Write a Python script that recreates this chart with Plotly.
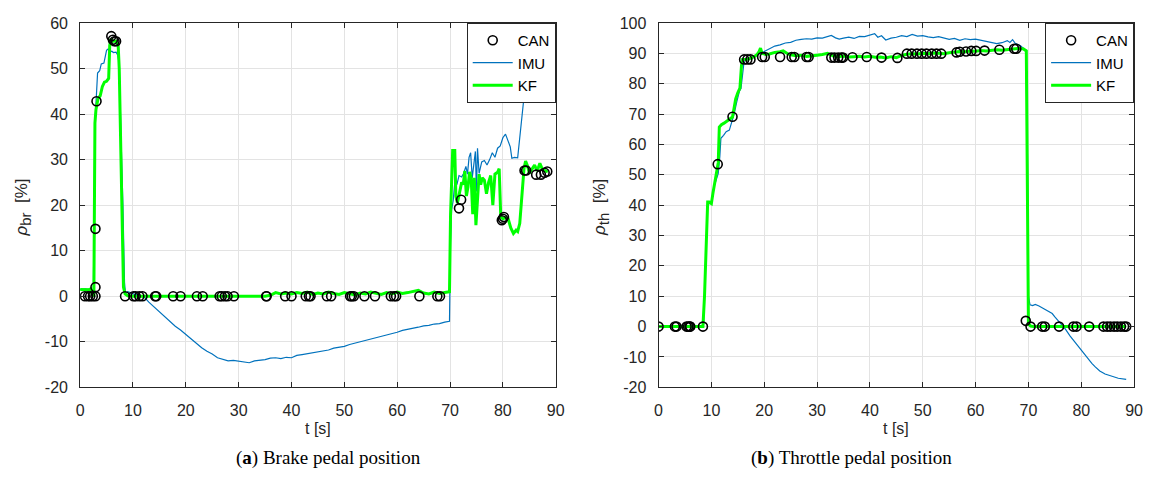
import plotly.graph_objects as go

# ---------------- Brake pedal position ----------------
brake_can_t = [0.9, 1.5, 1.9, 2.4, 2.9, 2.9, 2.9, 3.1, 5.9, 6.2, 6.5, 6.8,
               8.5, 10.1, 10.5, 11.2, 11.8, 14.2, 14.4, 17.6, 19.0, 22.1, 23.2,
               26.4, 26.8, 27.4, 27.9, 29.1, 35.2, 35.3, 38.8, 40.0, 42.7, 43.3,
               43.6, 46.7, 47.5, 51.1, 51.4, 51.8, 53.8, 55.8, 58.8, 59.4, 59.8,
               64.2, 67.6, 68.1, 71.7, 72.1, 79.8, 80.0, 80.2, 84.1, 84.4, 86.3,
               87.2, 87.9, 88.4]
brake_can_v = [0, 0, 0, 0, 0, 2.0, 14.8, 42.8, 57.1, 56.3, 56.0, 56.0,
               0, 0, 0, 0, 0, 0, 0, 0, 0, 0, 0,
               0, 0, 0, 0, 0, 0, 0, 0, 0, 0, 0,
               0, 0, 0, 0, 0, 0, 0, 0, 0, 0, 0,
               0, 0, 0, 19.3, 21.2, 16.7, 17.0, 17.4, 27.6, 27.6, 26.7,
               26.7, 27.1, 27.4]

brake_imu_t = [0, 1, 2, 2.5, 2.8, 3.0, 3.3, 3.7, 4.0, 4.5, 4.8, 5.0, 5.3, 5.6,
               6.0, 6.3, 6.8, 7.1, 7.4, 7.7, 7.9, 8.1, 8.4, 8.6, 9.0, 9.5, 10,
               11, 12, 13, 14, 15, 16, 17, 18, 19, 20, 21, 22, 23, 24, 25, 26,
               27, 28, 29, 30, 31, 32, 33, 34, 35, 36, 37, 38, 39, 40, 41, 42,
               43, 44, 45, 46, 47, 48, 49, 50, 51, 52, 53, 54, 55, 56, 57, 58,
               59, 60, 61, 62, 63, 64, 65, 66, 67, 68, 69, 69.9, 70.1, 70.3,
               70.6, 70.9, 71.3, 71.7, 72.2, 72.6, 73.0, 73.3, 73.6, 73.9, 74.2,
               74.5, 74.8, 75.0, 75.2, 75.5, 76.0, 76.5, 77.0, 77.5, 78.0, 78.5,
               79.0, 79.5, 80.0, 80.5, 81.0, 81.4, 81.7, 82.2, 82.8, 83.2, 83.8,
               84.2, 84.6, 85.0, 85.5]
brake_imu_v = [1.5, 1.6, 1.4, 1.2, 38, 44, 49, 49.5, 51, 51.2, 52.5, 54, 54.3,
               53.6, 53.8, 53.5, 53.6, 53.0, 51, 40, 28, 20, 3, 0.5, 1.0, 0.8,
               0.5, 0.3, 0.0, -1.3, -2.4, -3.3, -4.5, -5.6, -6.6, -7.4, -8.4,
               -9.5, -10.4, -11.3, -12.1, -12.7, -13.5, -13.8, -14.2, -14.1,
               -14.3, -14.4, -14.6, -14.2, -14.1, -13.9, -13.6, -13.5, -13.7,
               -13.4, -13.5, -13.0, -12.8, -12.6, -12.4, -12.2, -11.9, -11.8,
               -11.4, -11.2, -11.0, -10.6, -10.3, -10.0, -9.8, -9.5, -9.2, -8.9,
               -8.5, -8.2, -7.9, -7.5, -7.3, -7.0, -6.8, -6.5, -6.4, -6.1, -6.0,
               -5.7, -5.5, 12, 19, 21, 25, 24.5, 26.5, 26.2, 27, 28.5, 26.8,
               30.5, 31.5, 26, 29, 31.8, 23, 32.5, 27, 29.5, 29.8, 28.8, 30,
               31.5, 30.5, 32.5, 33, 34.8, 35.6, 34.2, 32.8, 30.3, 30.5, 30.4,
               34.5, 42, 46, 52, 58, 63]

brake_kf_t = [0, 1.5, 2.0, 2.3, 2.6, 2.8, 3.0, 3.4, 3.8, 4.2, 4.6, 5.0, 5.4,
              5.6, 5.8, 6.2, 6.8, 7.2, 7.4, 7.7, 8.0, 8.2, 8.5, 9, 10, 35, 36,
              37, 38, 39, 40, 41, 42, 43, 44, 45, 46, 47, 48, 49, 50, 51, 52,
              53, 54, 55, 56, 57, 58, 59, 60, 61, 62, 63, 64, 65, 66, 67, 68,
              69, 69.9, 70.1, 70.3, 70.5, 70.9, 71.1, 71.4, 71.8, 72.2, 72.5,
              72.8, 73.1, 73.4, 73.7, 74.0, 74.3, 74.6, 74.9, 75.2, 75.5, 75.8,
              76.1, 76.5, 76.9, 77.3, 77.7, 78.1, 78.5, 79.0, 79.3, 79.6, 80.0,
              80.5, 81.0, 81.5, 82.0, 82.5, 82.8, 83.2, 83.6, 84.0, 84.3, 84.7,
              85.0, 85.5, 86.0, 86.5, 87.0, 87.5, 88.0, 88.5]
brake_kf_v = [1.5, 1.4, 1.6, 0.3, 0.2, 38, 41, 43.5, 44, 46, 47, 47.2, 47.8,
              55, 56.5, 56, 56, 55, 50, 30, 12, 2, 0.5, 0.1, 0, 0, 0.2, 0.8,
              0.5, 0.7, 0.5, 0.8, 0.6, 0.9, 0.4, 0.7, 0.5, 0.9, 0.6, 0.4, 0.8,
              0.6, 0.3, 0.7, 0.5, 0.9, 0.6, 0.4, 0.8, 0.5, 0.9, 0.6, 0.8, 1.0,
              1.3, 0.7, 0.5, 0.9, 0.6, 0.8, 1.0, 18, 25, 32, 32, 22, 20.5, 23,
              25, 24.5, 27.5, 22, 24, 27.3, 26, 18, 26, 15.6, 22, 26.8, 24.5,
              26, 25.5, 22.5, 25, 26.5, 20, 26.8, 27.2, 28, 17.5, 17, 17.3, 17,
              15, 13.8, 14.5, 14.2, 16, 22, 28, 29.7, 28.5, 27, 28, 28.8, 27.5,
              29.2, 27.8, 27.5, 27.3]

# ---------------- Throttle pedal position ----------------
throttle_can_t = [0, 3.1, 3.4, 5.3, 5.6, 5.9, 6.0, 8.4, 11.2, 14.0, 16.2, 16.8,
                  17.4, 19.6, 20.1, 23.0, 25.2, 25.7, 28.0, 28.4, 32.7, 33.3,
                  34.0, 34.6, 34.9, 36.7, 39.4, 42.2, 45.2, 47.0, 47.9, 48.9,
                  49.8, 50.7, 51.7, 52.6, 53.5, 56.4, 57.0, 58.2, 59.2, 60.1,
                  61.7, 64.5, 67.3, 67.7, 69.5, 70.4, 72.6, 73.1, 75.8, 78.5,
                  79.1, 81.5, 84.2, 84.9, 85.5, 86.2, 86.8, 87.5, 88.1, 88.5]
throttle_can_v = [0, 0, 0, 0, 0, 0, 0, 0, 53.5, 69.1, 88.0, 88.0,
                  88.0, 88.8, 88.8, 88.8, 88.8, 88.8, 88.8, 88.8, 88.6, 88.6,
                  88.6, 88.6, 88.6, 88.7, 88.8, 88.6, 88.5, 89.9, 89.9, 89.9,
                  89.9, 89.9, 89.9, 89.9, 89.9, 90.3, 90.5, 90.6, 90.8, 90.8,
                  90.9, 91.2, 91.5, 91.5, 1.9, 0, 0, 0, 0, 0,
                  0, 0, 0, 0, 0, 0, 0, 0, 0, 0]

throttle_imu_t = [0, 8.5, 8.8, 9.1, 9.3, 9.7, 10, 10.5, 11.0, 11.3, 11.6, 11.8,
                  12.3, 12.8, 13.4, 13.8, 14.3, 14.8, 15.3, 15.6, 15.9, 16.2,
                  17, 18, 19, 20, 21, 22, 23, 24, 25, 26, 27, 28, 29, 30, 31,
                  32, 32.7, 33.5, 34.2, 35, 36, 37, 38, 39, 40, 40.9, 41.5,
                  42.2, 43, 44, 45, 46, 47, 48, 49, 50, 51, 52, 53, 54, 55, 56,
                  57, 58, 59, 60, 61, 62, 63, 64, 65, 66, 66.5, 67, 67.5, 68,
                  68.5, 69, 69.5, 69.8, 70.0, 70.3, 70.8, 71.3, 72, 73, 74,
                  74.5, 75, 76, 77, 77.9, 79, 79.8, 81, 82, 82.6, 83.5, 84.5,
                  85.7, 87, 88.5]
throttle_imu_v = [0, 0, 15, 35, 41.3, 40.5, 41, 46, 49, 50.5, 56, 62, 63, 64.2,
                  64.7, 67, 70, 74, 77.5, 78.4, 84, 87.5, 88, 89, 89.8, 90.6,
                  91.5, 92.4, 92.8, 93.4, 93.6, 94.3, 94.6, 94.8, 94.7, 95.1,
                  95.0, 95.4, 95.9, 95.1, 94.7, 95.0, 95.3, 94.9, 95.6, 95.5,
                  96.0, 96.5, 95.3, 95.8, 94.4, 95.0, 95.3, 95.8, 95.5, 96.2,
                  95.7, 95.8, 95.4, 95.2, 95.5, 95.0, 94.6, 94.9, 94.3, 94.8,
                  94.5, 94.7, 94.3, 94.0, 93.4, 93.2, 93.5, 94.2, 93.6, 94.5,
                  93.3, 93.0, 92.5, 91.7, 91.0, 60, 10, 7.2, 6.9, 7.3, 6.8, 5.8,
                  4.8, 4.3, 3.2, 1.2, -0.8, -3.1, -5.5, -7.4, -10.2, -12.1,
                  -13.2, -14.6, -15.6, -16.4, -17.0, -17.4]

throttle_kf_t = [0, 8.4, 8.7, 9.0, 9.3, 9.6, 10, 10.3, 10.6, 11.0, 11.3, 11.5,
                 11.9, 12.4, 13.0, 13.6, 14.0, 14.3, 14.6, 15.0, 15.4, 15.7,
                 15.9, 16.5, 17.2, 18, 18.6, 19.0, 19.3, 19.6, 20.3, 21, 22, 23,
                 23.6, 24.5, 25, 26, 27, 28, 29, 30, 31, 32, 33, 34, 35, 36, 37,
                 38, 39, 40, 41, 42, 43, 44, 45, 46, 47, 48, 49, 50, 51, 52, 53,
                 54, 55, 56, 57, 58, 59, 60, 61, 62, 63, 64, 65, 66, 67, 68, 69,
                 69.6, 69.8, 69.9, 70.0, 70.4, 71, 88.5]
throttle_kf_v = [0, 0, 10, 30, 41, 41, 40.5, 44, 47, 50, 54, 65.7, 66.5, 67,
                 67.7, 68.3, 69, 72, 75, 77, 78.5, 86, 88, 88, 88.2, 88.8, 89.5,
                 90.5, 91.7, 90, 89.6, 89.8, 90.3, 90.5, 90.8, 89.8, 89.5, 89.2,
                 89.4, 89.0, 89.3, 89.4, 89.6, 90.0, 89.2, 88.9, 89.1, 88.8,
                 88.9, 89.0, 88.8, 89.0, 88.7, 88.8, 88.5, 88.9, 88.6, 89.3,
                 89.7, 89.9, 89.8, 90.0, 89.9, 90.1, 90.0, 89.9, 90.2, 90.4,
                 90.6, 90.5, 90.8, 90.7, 90.9, 90.8, 91.0, 91.2, 91.0, 91.3,
                 91.4, 91.6, 91.5, 90.8, 50, 10, 1.0, 0.2, 0, 0]

ticks_x = [0, 10, 20, 30, 40, 50, 60, 70, 80, 90]
ticks_brake = [-20, -10, 0, 10, 20, 30, 40, 50, 60]
ticks_throttle = [-20, -10, 0, 10, 20, 30, 40, 50, 60, 70, 80, 90, 100]

W, H = 1153, 489
AX = "#262626"
GRID = "#e3e3e3"
CAN_C = "#000000"
IMU_C = "#0072BD"
KF_C = "#00FF00"
SANS = "Liberation Sans, Arial, sans-serif"


def px_x(x):
    return x / W


def px_y(y):
    return 1 - y / H


fig = go.Figure()


def add_panel(xa, ya, leg, can_t, can_v, imu_t, imu_v, kf_t, kf_v):
    fig.add_trace(go.Scatter(x=imu_t, y=imu_v, mode="lines", name="IMU",
                             line=dict(color=IMU_C, width=1.2),
                             xaxis=xa, yaxis=ya, legend=leg, legendrank=2))
    fig.add_trace(go.Scatter(x=kf_t, y=kf_v, mode="lines", name="KF",
                             line=dict(color=KF_C, width=3),
                             xaxis=xa, yaxis=ya, legend=leg, legendrank=3))
    fig.add_trace(go.Scatter(x=can_t, y=can_v, mode="markers", name="CAN",
                             marker=dict(symbol="circle-open", size=9,
                                         color=CAN_C, line=dict(width=1.6)),
                             xaxis=xa, yaxis=ya, legend=leg, legendrank=1))


add_panel("x", "y", "legend", brake_can_t, brake_can_v,
          brake_imu_t, brake_imu_v, brake_kf_t, brake_kf_v)
add_panel("x2", "y2", "legend2", throttle_can_t, throttle_can_v,
          throttle_imu_t, throttle_imu_v, throttle_kf_t, throttle_kf_v)

# plot-area geometry in pixels
L1, R1 = 77, 558
L2, R2 = 662, 1143
TOP, BOT = 15.5, 393


def tick_text(vals):
    # plain hyphen-minus for negative numbers
    return [str(v) for v in vals]


axis_common = dict(showline=True, linecolor=AX, linewidth=1, mirror="ticks",
                   ticks="inside", ticklen=5, tickcolor=AX, tickwidth=1,
                   showgrid=True, gridcolor=GRID, gridwidth=1, zeroline=False,
                   ticklabelstandoff=8, ticklabeloverflow="allow",
                   tickfont=dict(family=SANS, size=16, color=AX))

ydom = [px_y(BOT), px_y(TOP)]
fig.update_layout(
    width=W, height=H, margin=dict(l=0, r=0, t=0, b=0),
    paper_bgcolor="white", plot_bgcolor="white",
    xaxis=dict(domain=[px_x(L1), px_x(R1)], range=[0, 90], tickvals=ticks_x,
               ticktext=tick_text(ticks_x), anchor="y", **axis_common),
    yaxis=dict(domain=ydom, range=[-20, 60], tickvals=ticks_brake,
               ticktext=tick_text(ticks_brake), anchor="x", **axis_common),
    xaxis2=dict(domain=[px_x(L2), px_x(R2)], range=[0, 90], tickvals=ticks_x,
                ticktext=tick_text(ticks_x), anchor="y2", **axis_common),
    yaxis2=dict(domain=ydom, range=[-20, 100], tickvals=ticks_throttle,
                ticktext=tick_text(ticks_throttle), anchor="x2", **axis_common),
    showlegend=True,
)

legend_common = dict(bgcolor="white", bordercolor=AX, borderwidth=1,
                     font=dict(family=SANS, size=15, color="#000000"),
                     xanchor="right", yanchor="top", tracegroupgap=0,
                     itemwidth=40)
fig.update_layout(
    legend=dict(x=px_x(R1), y=px_y(TOP), **legend_common),
    legend2=dict(x=px_x(R2), y=px_y(TOP), **legend_common),
)

# axis labels
label_font = dict(family=SANS, size=16, color=AX)
for xc in [(L1 + R1) / 2, (L2 + R2) / 2]:
    fig.add_annotation(x=px_x(xc), y=px_y(436), xref="paper", yref="paper",
                       text="t [s]", showarrow=False, font=label_font,
                       xanchor="center", yanchor="middle")
for xc, sub in [(19, "br"), (19 + 585, "th")]:
    fig.add_annotation(x=px_x(xc), y=px_y(207), xref="paper", yref="paper",
                       text=("<i>ρ</i><sub><span style='font-size:15px'>"
                             + sub + "</span></sub>  [%]"),
                       showarrow=False, textangle=-90,
                       font=dict(family=SANS, size=17, color=AX),
                       xanchor="center", yanchor="middle")

# captions
cap_font = dict(family="Liberation Serif, Times New Roman, serif", size=19,
                color="#000000")
fig.add_annotation(x=px_x(328), y=px_y(466), xref="paper", yref="paper",
                   text="(<b>a</b>) Brake pedal position", showarrow=False,
                   font=cap_font, xanchor="center", yanchor="middle")
fig.add_annotation(x=px_x(857), y=px_y(466), xref="paper", yref="paper",
                   text="(<b>b</b>) Throttle pedal position", showarrow=False,
                   font=cap_font, xanchor="center", yanchor="middle")

fig.write_html("out.html")
